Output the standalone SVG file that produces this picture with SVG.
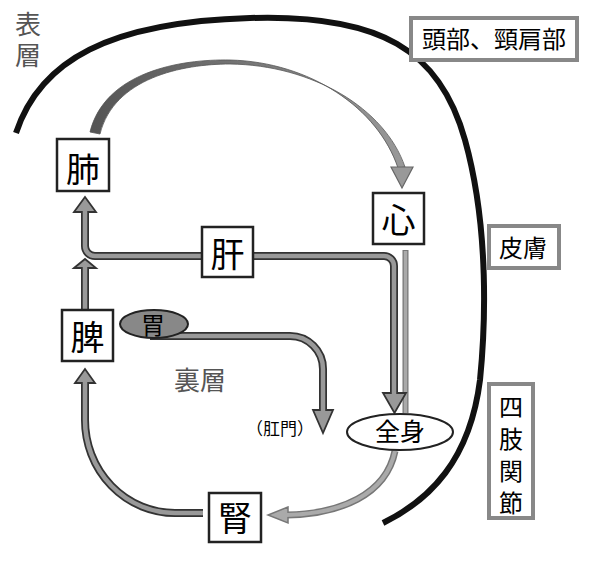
<svg xmlns="http://www.w3.org/2000/svg" width="600" height="563" viewBox="0 0 600 563">
<defs>
<style>
.t{font-family:"Noto Sans CJK JP","Noto Sans CJK SC",sans-serif;fill:#000;text-anchor:middle}
.big{font-size:34px}
.box{fill:#fff;stroke:#222;stroke-width:2.5}
.lbl{fill:#fff;stroke:#888;stroke-width:4}
.out{fill:none;stroke:#333;stroke-width:8}
.in{fill:none;stroke:#999;stroke-width:4.5}
.head{fill:#999;stroke:#333;stroke-width:1.8;stroke-linejoin:miter}
.layer{font-family:"Noto Sans CJK JP",sans-serif;fill:#555;font-size:26px}
</style>
<linearGradient id="arc" gradientUnits="userSpaceOnUse" x1="95" y1="0" x2="405" y2="0">
<stop offset="0" stop-color="#555"/>
<stop offset="1" stop-color="#999"/>
</linearGradient>
</defs>

<!-- outer boundary curve -->
<path d="M16,133 C40,60 110,22 250,18 C380,14 440,50 465,140 C490,230 485,330 480,380 C470,460 430,500 383,523" fill="none" stroke="#111" stroke-width="6"/>

<!-- layer labels -->
<g id="surface-label">
<text class="layer" x="28" y="11" writing-mode="vertical-rl" letter-spacing="5">表層</text>
</g>
<g id="inner-label"><text class="layer" x="200" y="390" text-anchor="middle">裏層</text></g>

<g id="connectors">
<!-- lung to heart arc -->
<path d="M90,132 C105,72 180,59 230,60 C310,62 378,108 398,168 L405,167 C385,108 312,65 230,64 C182,64 114,78 100,134 Z" fill="url(#arc)" stroke="#555" stroke-width="0.8"/>
<polygon points="391,167 413,167 402,188" fill="#999" stroke="#666" stroke-width="1.2"/>

<!-- heart to whole body bar -->
<line x1="405.5" y1="250" x2="405.5" y2="413" stroke="#777" stroke-width="6"/>
<line x1="405.5" y1="251" x2="405.5" y2="413" stroke="#aaa" stroke-width="3.5"/>

<!-- liver bar: left to lung, right to whole body -->
<path class="out" d="M202,256 L95,256 A10 10 0 0 1 85,246 L85,211"/>
<polygon class="head" points="74,212 85,197 96,212"/>
<path class="in" d="M202,256 L95,256 A10 10 0 0 1 85,246 L85,210"/>

<path class="out" d="M253,256 L384,256 A10 10 0 0 1 394,266 L394,394"/>
<polygon class="head" points="383,393 406,393 394.5,413"/>
<path class="in" d="M253,256 L384,256 A10 10 0 0 1 394,266 L394,395"/>

<!-- spleen to up -->
<path class="out" d="M85,310 L85,268"/>
<polygon class="head" points="74,268 85,259 96,268"/>
<path class="in" d="M85,310 L85,266"/>

<!-- kidney to spleen -->
<path class="out" d="M203,513 L175,513 A90 93 0 0 1 85,420 L85,383"/>
<polygon class="head" points="75,383 85,369 95,383"/>
<path class="in" d="M203,513 L175,513 A90 93 0 0 1 85,420 L85,381"/>

<!-- stomach to anus -->
<path class="out" d="M150,336 L290,336 A33 33 0 0 1 323,369 L323,411" stroke-width="7.5"/>
<polygon class="head" points="313,410 333,410 323,433"/>
<path class="in" d="M150,336 L290,336 A33 33 0 0 1 323,369 L323,412" stroke-width="4"/>

<!-- whole body to kidney -->
<path d="M395,451 C386,495 340,514 287,515" fill="none" stroke="#777" stroke-width="7"/>
<polygon points="288,507 268,515 288,523" fill="#aaa" stroke="#777" stroke-width="1.5"/>
<path d="M395,451 C386,495 340,514 286,515" fill="none" stroke="#aaa" stroke-width="4"/>
</g>

<g id="lung"><rect class="box" x="57" y="139" width="52" height="52"/><text class="t big" x="83" y="182">肺</text></g>
<g id="heart"><rect class="box" x="373" y="193" width="51" height="51"/><text class="t big" x="398.5" y="233">心</text></g>
<g id="liver"><rect class="box" x="202" y="227" width="51" height="50"/><text class="t big" x="227.5" y="267">肝</text></g>
<g id="spleen"><rect class="box" x="62" y="310" width="51" height="51"/><text class="t big" x="87.5" y="350">脾</text></g>
<g id="kidney"><rect class="box" x="209" y="493" width="52" height="49"/><text class="t big" x="235" y="531">腎</text></g>
<g id="stomach"><ellipse cx="154" cy="324" rx="34" ry="14" fill="#888" stroke="#222" stroke-width="2"/><text class="t" x="153" y="334" font-size="24">胃</text></g>
<g id="wholebody"><ellipse cx="400" cy="432" rx="53" ry="18" fill="#fff" stroke="#222" stroke-width="2"/><text class="t" x="400" y="441" font-size="25">全身</text></g>
<g id="anus"><text class="t" x="280" y="435" font-size="17">（肛門）</text></g>

<g id="head-neck"><rect class="lbl" x="411" y="18" width="166" height="42"/><text class="t" x="494" y="48" font-size="24">頭部、頸肩部</text></g>
<g id="skin"><rect class="lbl" x="489" y="226" width="70" height="42"/><text class="t" x="523" y="257" font-size="24">皮膚</text></g>
<g id="limbs"><rect class="lbl" x="489" y="384" width="44" height="134"/>
<text x="511" y="395" font-size="24" writing-mode="vertical-rl" letter-spacing="8" font-family="'Noto Sans CJK JP','Noto Sans CJK SC',sans-serif" fill="#000">四肢関節</text></g>
</svg>
